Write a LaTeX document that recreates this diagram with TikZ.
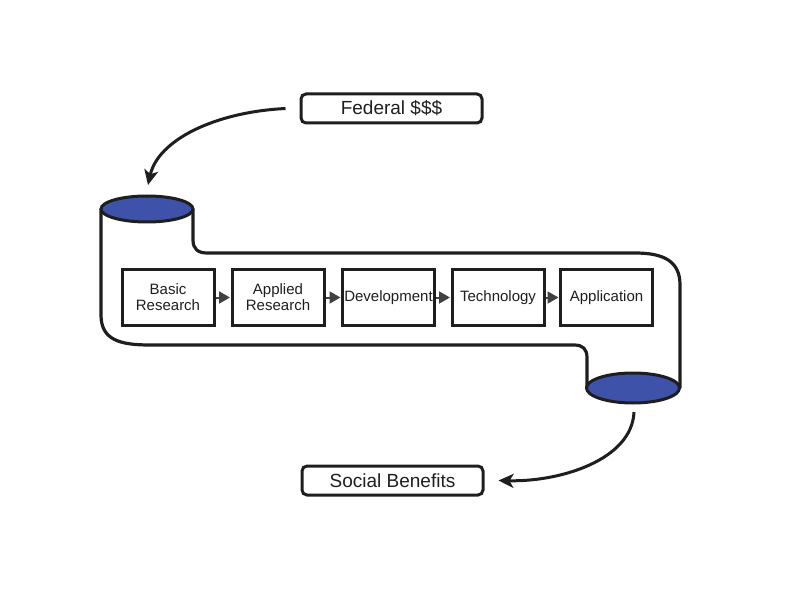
\documentclass[tikz,border=0pt]{standalone}
\usepackage{fontspec}
\setmainfont{Liberation Sans}
\usetikzlibrary{arrows.meta}
\definecolor{capblue}{RGB}{62,82,170}
\definecolor{ink}{RGB}{30,30,30}
\tikzset{
  stage/.style={draw=ink, line width=3pt, minimum width=92pt, minimum height=56pt, inner sep=0pt, align=center, font=\fontsize{15}{16}\selectfont, text=ink},
  label box/.style={draw=ink, line width=3pt, rounded corners=5pt, minimum width=181pt, minimum height=29pt, inner sep=0pt, font=\fontsize{19}{21}\selectfont, text=ink},
  pipe/.style={draw=ink, line width=3.2pt, line join=round},
  capdisc/.style={draw=ink, fill=capblue, line width=3pt},
  flow/.style={draw=ink!85, line width=2pt, -{Triangle[length=11pt,width=12pt]}, shorten >=0.5pt},
  bend arrow/.style={draw=ink, line width=3pt, -{Stealth[length=15pt,width=14pt,inset=4pt]}}
}
\begin{document}
\begin{tikzpicture}[x=1pt,y=-1pt]
\useasboundingbox (0,0) rectangle (792,612);
% pipe outline
\draw[pipe] (101,209) -- (101,315) .. controls (101,340) and (120,345) .. (150,345)
  -- (574,345) .. controls (583,345) and (587,349) .. (587,358) -- (587,388);
\draw[pipe] (680,388) -- (680,285) .. controls (680,262) and (665,253) .. (635,253)
  -- (207,253) .. controls (198,253) and (193,249) .. (193,240) -- (193,209);
% caps
\draw[capdisc] (147,209) ellipse [x radius=46, y radius=13];
\draw[capdisc] (633,388) ellipse [x radius=46.5, y radius=15];
% stages
\node[stage] (basic) at (168,297.5) {Basic\\Research};
\node[stage] (applied) at (278,297.5) {Applied\\Research};
\node[stage] (dev) at (388.5,297.5) {Development};
\node[stage] (tech) at (498,297.5) {Technology};
\node[stage] (app) at (606.5,297.5) {Application};
\draw[flow] (basic) -- (applied);
\draw[flow] (applied) -- (dev);
\draw[flow] (dev) -- (tech);
\draw[flow] (tech) -- (app);
% labels
\node[label box] (federal) at (391.5,108.5) {Federal \$\$\$};
\node[label box] (social) at (392.5,480.5) {Social Benefits};
\coordinate (topcap) at (148,185);
\coordinate (botcap) at (634,412);
\draw[bend arrow] ([xshift=-14pt]federal.west) .. controls (215,112) and (158,140) .. (topcap);
\draw[bend arrow] (botcap) .. controls (632,460) and (560,482) .. ([xshift=14pt]social.east);
\end{tikzpicture}
\end{document}
